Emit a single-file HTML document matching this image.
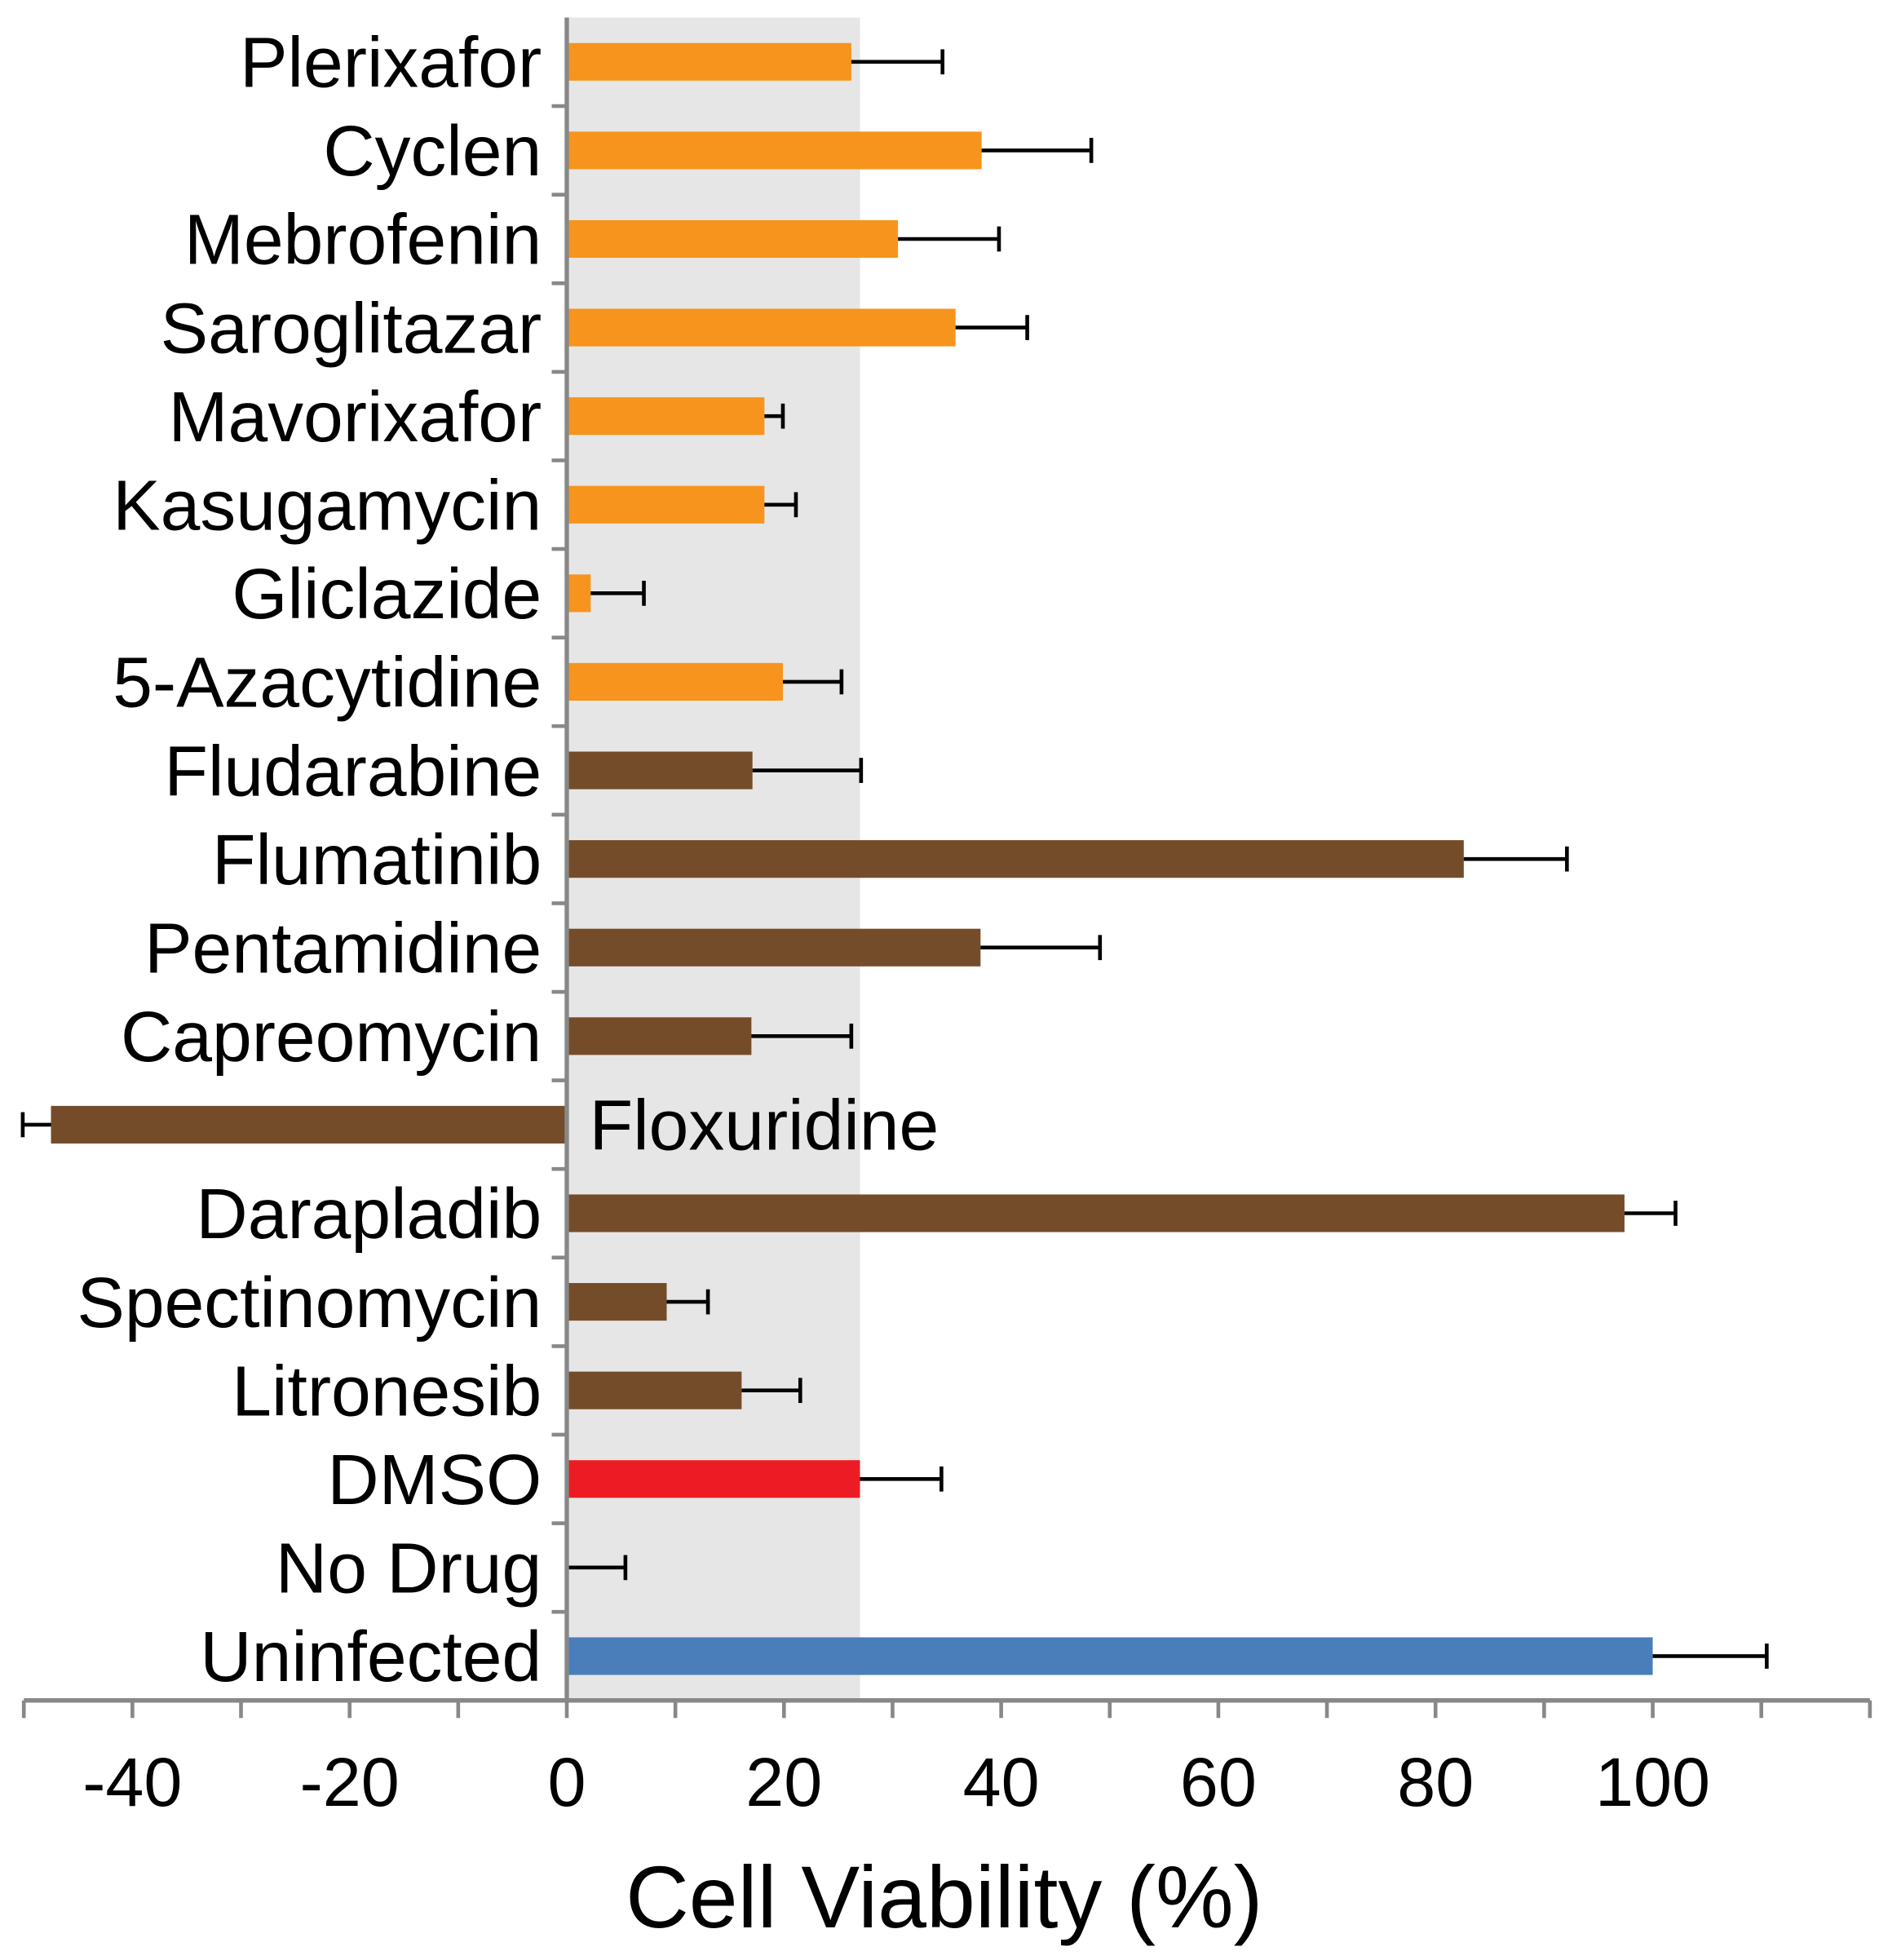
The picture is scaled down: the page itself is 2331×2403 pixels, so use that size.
<!DOCTYPE html>
<html><head><meta charset="utf-8"><style>
html,body{margin:0;padding:0;background:#fff}
svg{display:block}
text{font-family:"Liberation Sans",Arial,sans-serif;fill:#000}
</style></head><body>
<svg id="chart" width="2331" height="2403" viewBox="0 0 1516 1563" preserveAspectRatio="none" xmlns="http://www.w3.org/2000/svg">
<g id="g"></g>
</svg>
<script>
const categories=["Plerixafor","Cyclen","Mebrofenin","Saroglitazar","Mavorixafor","Kasugamycin","Gliclazide","5-Azacytidine","Fludarabine","Flumatinib","Pentamidine","Capreomycin","Floxuridine","Darapladib","Spectinomycin","Litronesib","DMSO","No Drug","Uninfected"];
const values=[26.2,38.2,30.5,35.8,18.2,18.2,2.2,19.9,17.1,82.6,38.1,17.0,-47.5,97.4,9.2,16.1,27.0,0,100];
const errEnds=[34.6,48.3,39.8,42.4,19.9,21.1,7.1,25.3,27.1,92.1,49.1,26.2,-50.1,102.1,13.0,21.5,34.5,5.4,110.5];
const groups=["o","o","o","o","o","o","o","o","b","b","b","b","b","b","b","b","r","n","u"];
const tickValues=[-40,-20,0,20,40,60,80,100];
const shadeMax=27.0;
const colors={o:"#F7941D",b:"#754C29",r:"#ED1C24",n:"#754C29",u:"#4A7EBB"};
const NS="http://www.w3.org/2000/svg";
const g=document.getElementById('g');
const x0=452, ppu=8.66, topY=14, axisY=1356;
const step=(axisY-topY)/categories.length;
const X=v=>x0+v*ppu;
const Y=i=>topY+step*(i+0.5);
function mk(t,a){const e=document.createElementNS(NS,t);for(const k in a)e.setAttribute(k,a[k]);g.appendChild(e);return e;}
let e=mk('rect',{x:X(0),y:topY,width:X(shadeMax)-X(0),height:axisY-topY,fill:"#E6E6E6"});


categories.forEach((c,i)=>{
  const y=Y(i),v=values[i],bh=30;
  const b=mk('rect',{x:Math.min(X(0),X(v)),y:y-bh/2,width:Math.abs(X(v)-X(0)),height:bh,fill:colors[groups[i]]});
  
  
  const l=mk('line',{x1:X(v),x2:X(errEnds[i]),y1:y,y2:y,stroke:"#000","stroke-width":3});
  
  
  mk('line',{x1:X(errEnds[i]),x2:X(errEnds[i]),y1:y-10,y2:y+10,stroke:"#000","stroke-width":3});
  const neg=v<0;
  const t=mk('text',{x:neg?470:432,y:y+20,"font-size":57,"text-anchor":neg?"start":"end"});
  t.textContent=c;
  
  
});
for(let i=0;i<categories.length;i++){const y=topY+step*(i+1);mk('line',{x1:440,x2:X(0),y1:y,y2:y,stroke:"#888","stroke-width":3});}
e=mk('line',{x1:X(0),x2:X(0),y1:topY,y2:axisY,stroke:"#888","stroke-width":3.5});


e=mk('line',{x1:X(-50),x2:X(120),y1:axisY,y2:axisY,stroke:"#888","stroke-width":3.5});


for(let v=-50;v<=120;v+=10)mk('line',{x1:X(v),x2:X(v),y1:axisY,y2:axisY+14,stroke:"#888","stroke-width":3});
tickValues.forEach(v=>{const t=mk('text',{x:X(v),y:1440,"font-size":55,"text-anchor":"middle"});t.textContent=v;

});
e=mk('text',{x:753,y:1537,"font-size":70,"text-anchor":"middle"});
e.textContent="Cell Viability (%)";


</script>
</body></html>
